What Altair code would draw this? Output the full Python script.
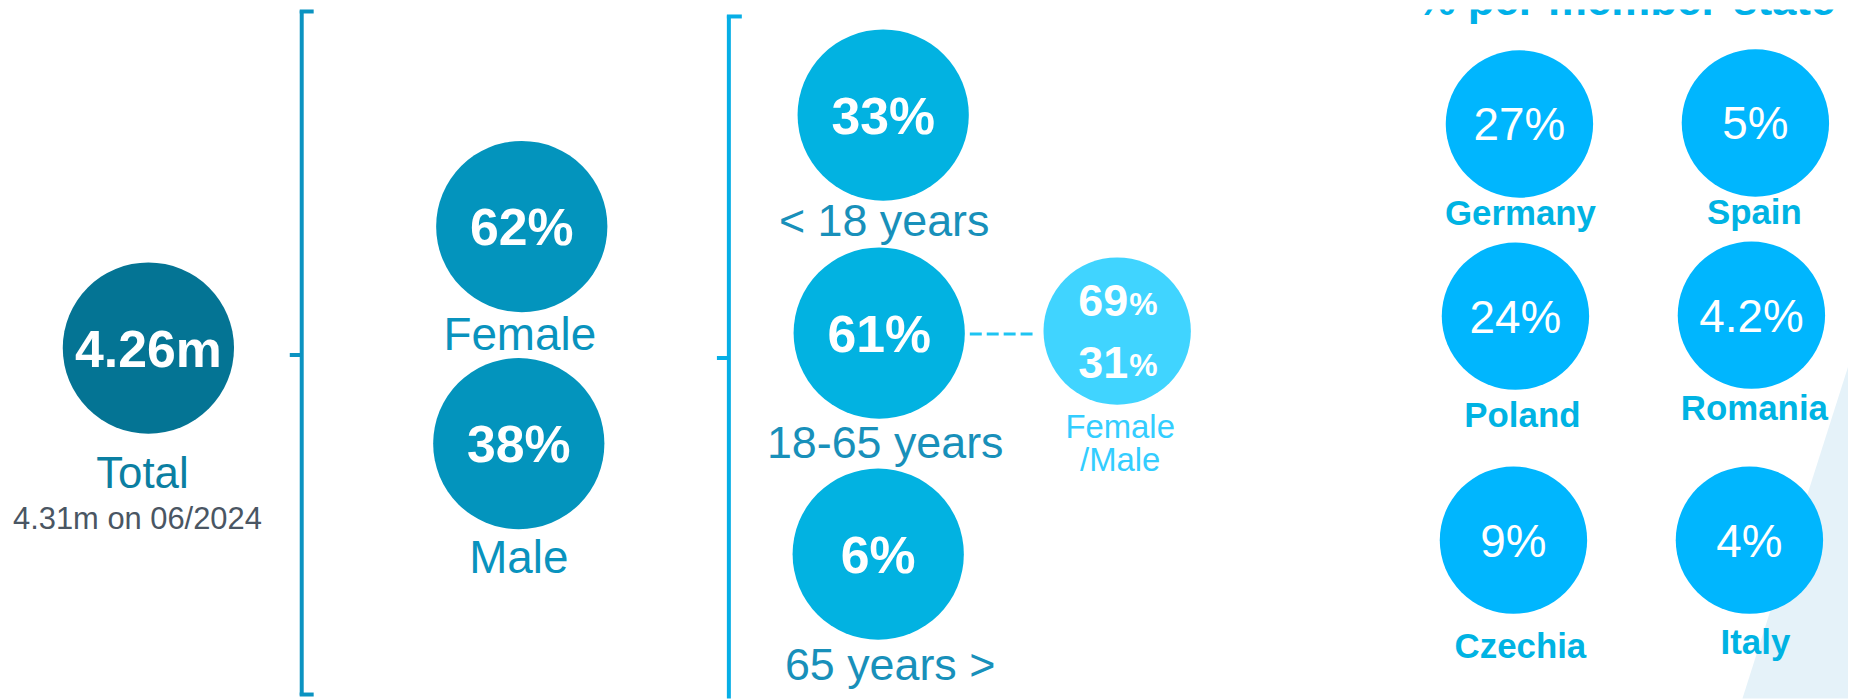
import math
import altair as alt
import pandas as pd

# ------------------------------------------------------------------ data
total_value = "4.26m"
total_label = "Total"
total_note = "4.31m on 06/2024"

gender_labels = ["Female", "Male"]
gender_shares = [62, 38]

age_labels = ["< 18 years", "18-65 years", "65 years >"]
age_shares = [33, 61, 6]

working_age_split = [69, 31]          # female / male share of 18-65
working_age_split_label = ["Female", "/Male"]

title_text = "% per member-state"
countries = ["Germany", "Spain", "Poland", "Romania", "Czechia", "Italy"]
country_shares = [27, 5, 24, 4.2, 9, 4]

# ------------------------------------------------------------------ layout (page pixels)
total_xy = (149, 348)
total_label_xy = (143, 473)
total_note_xy = (138, 519)
gender_xy = [(524, 226), (521, 444)]
gender_label_xy = [(522, 334), (521, 557)]
age_xy = [(887, 114), (883, 333), (882, 555)]
age_label_xy = [(888, 219), (889, 442), (894, 665)]
split_xy = (1122, 331)
split_text_y = [300, 362]
split_label_xy = [(1125, 427), (1125, 460)]
country_xy = [(1526, 123), (1763, 122), (1522, 316), (1759, 315), (1520, 541), (1757, 541)]
country_label_xy = [(1527, 212), (1762, 211), (1529, 415), (1762, 408), (1527, 647), (1763, 643)]
title_xy = (1633, 0)

R_BIG, R_SMALL = 86, 74
C_TOTAL, C_GENDER, C_AGE, C_SPLIT, C_COUNTRY = "#047494", "#0394bd", "#02b2e1", "#40d4ff", "#00b6fe"
FONT = "Liberation Sans"

xs = alt.Scale(domain=[8, 1856], nice=False, zero=False)
ys = alt.Scale(domain=[8, 700], nice=False, zero=False, reverse=True)


def X(f):
    return alt.X(f"{f}:Q", scale=xs, axis=None)


def Y(f):
    return alt.Y(f"{f}:Q", scale=ys, axis=None)


def sym_size(r):
    # Vega circle symbol: radius = sqrt(size) / 2
    return (2 * r) ** 2


# ------------------------------------------------------------------ circles
circ = []
circ.append(dict(x=total_xy[0], y=total_xy[1], size=sym_size(R_BIG), color=C_TOTAL))
for (x, y) in gender_xy:
    circ.append(dict(x=x, y=y, size=sym_size(R_BIG), color=C_GENDER))
for (x, y) in age_xy:
    circ.append(dict(x=x, y=y, size=sym_size(R_BIG), color=C_AGE))
circ.append(dict(x=split_xy[0], y=split_xy[1], size=sym_size(R_SMALL), color=C_SPLIT))
for (x, y) in country_xy:
    circ.append(dict(x=x, y=y, size=sym_size(R_SMALL), color=C_COUNTRY))
circ_df = pd.DataFrame(circ)


# ------------------------------------------------------------------ texts
def row(text, x, ycap, size, color):
    # ycap = vertical centre of capitals; convert to alphabetic baseline
    return dict(text=text, x=x, y=ycap + 0.358 * size, size=size, color=color)


bold, normal = [], []
bold.append(row(total_value, total_xy[0], total_xy[1], 52, "white"))
normal.append(row(total_label, *total_label_xy, 44, "#0b7fa2"))
normal.append(row(total_note, *total_note_xy, 31, "#4a5663"))
for lab, v, (cx, cy), (lx, ly) in zip(gender_labels, gender_shares, gender_xy, gender_label_xy):
    bold.append(row(f"{v}%", cx, cy, 52, "white"))
    normal.append(row(lab, lx, ly, 46, "#0993be"))
for lab, v, (cx, cy), (lx, ly) in zip(age_labels, age_shares, age_xy, age_label_xy):
    bold.append(row(f"{v}%", cx, cy, 52, "white"))
    normal.append(row(lab, lx, ly, 45, "#1890ba"))
for lab, (lx, ly) in zip(working_age_split_label, split_label_xy):
    normal.append(row(lab, lx, ly, 33, "#33cdff"))
for name, v, (cx, cy), (lx, ly) in zip(countries, country_shares, country_xy, country_label_xy):
    normal.append(row(f"{v:g}%", cx, cy, 46, "white"))
    bold.append(row(name, lx, ly, 35, "#00b3e3"))

digits, pct = [], []
for v, ty in zip(working_age_split, split_text_y):
    digits.append(row(f"{v}", split_xy[0] + 11, ty, 45, "white"))
    pct.append(row("%", split_xy[0] + 12, ty + 3, 32, "white"))

title_df = pd.DataFrame([dict(text=title_text, x=title_xy[0], y=14, size=44, color="#00b0e8")])


def text_layer(rows, weight, align="center", clip=False):
    df = pd.DataFrame(rows)
    return alt.Chart(df).mark_text(
        font=FONT, fontWeight=weight, align=align, baseline="alphabetic", clip=clip
    ).encode(
        x=X("x"), y=Y("y"), text="text:N",
        size=alt.Size("size:Q", scale=None),
        color=alt.Color("color:N", scale=None),
    )


# ------------------------------------------------------------------ brackets & connectors
seg = [
    # bracket 1
    dict(x=303, y=9, x2=303, y2=697, color="#0b93c1"),
    dict(x=301, y=10, x2=315, y2=10, color="#0b93c1"),
    dict(x=301, y=696, x2=315, y2=696, color="#0b93c1"),
    dict(x=291, y=355, x2=303, y2=355, color="#0b93c1"),
    # bracket 2
    dict(x=732, y=14, x2=732, y2=700, color="#06aee6"),
    dict(x=730, y=15, x2=745, y2=15, color="#06aee6"),
    dict(x=720, y=358, x2=732, y2=358, color="#06aee6"),
]
seg_df = pd.DataFrame(seg)
brackets = alt.Chart(seg_df).mark_rule(strokeWidth=4, strokeCap="butt").encode(
    x=X("x"), y=Y("y"), x2=alt.X2("x2"), y2=alt.Y2("y2"),
    color=alt.Color("color:N", scale=None),
)

dash_df = pd.DataFrame([dict(x=974, x2=1038, y=334)])
dash = alt.Chart(dash_df).mark_rule(strokeWidth=3, strokeDash=[12, 5], color="#1ec4f2").encode(
    x=X("x"), x2=alt.X2("x2"), y=Y("y")
)

tri_df = pd.DataFrame([dict(x=1750, y=700, y2=700), dict(x=1856, y=367, y2=700)])
tri = alt.Chart(tri_df).mark_area(color="#e5f2f9", opacity=1).encode(
    x=X("x"), y=Y("y"), y2=alt.Y2("y2")
)

circles = alt.Chart(circ_df).mark_circle(opacity=1, strokeWidth=0).encode(
    x=X("x"), y=Y("y"),
    size=alt.Size("size:Q", scale=None),
    color=alt.Color("color:N", scale=None),
)

title = alt.Chart(title_df).mark_text(
    font=FONT, fontWeight="bold", align="center", baseline="alphabetic", clip=True
).encode(
    x=X("x"), y=Y("y"), text="text:N",
    size=alt.Size("size:Q", scale=None), color=alt.Color("color:N", scale=None),
)

chart = alt.layer(
    tri, brackets, dash, circles,
    text_layer(bold, "bold"),
    text_layer(normal, "normal"),
    text_layer(digits, "bold", align="right"),
    text_layer(pct, "bold", align="left"),
    title,
).properties(
    width=1848, height=692, padding=0, autosize="none", background="white"
).configure_view(strokeWidth=0)

chart.save("out.html", embed_options={"renderer": "svg", "actions": False})
